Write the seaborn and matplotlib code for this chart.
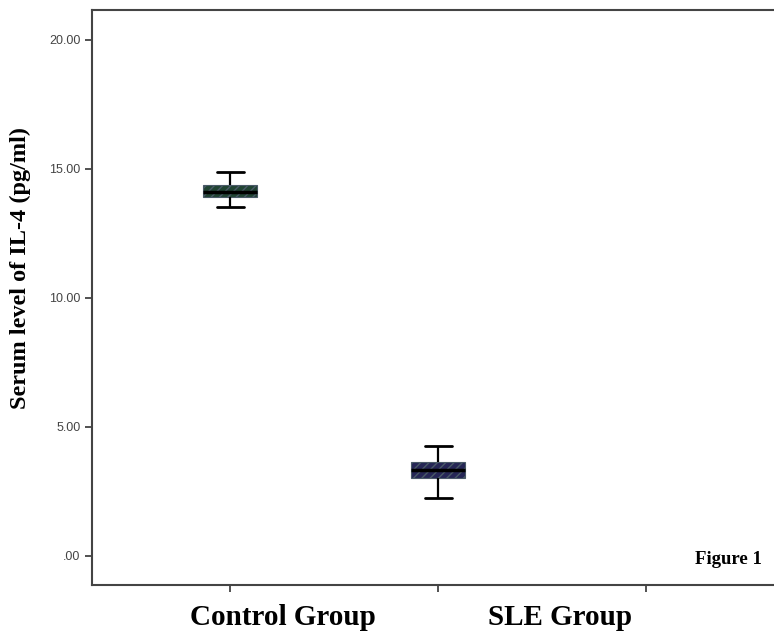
import numpy as np
import pandas as pd
import matplotlib
matplotlib.use("Agg")
import matplotlib.pyplot as plt
import seaborn as sns

# five-number summaries: min, q1, median, q3, max
groups = ["Control Group", "SLE Group"]
control_vals = [13.53, 13.91, 14.12, 14.38, 14.88]
sle_vals = [2.25, 3.02, 3.33, 3.64, 4.26]
box_colors = ["#1b4a33", "#1e1e5e"]
y_ticks = [0, 5, 10, 15, 20]
y_tick_labels = [".00", "5.00", "10.00", "15.00", "20.00"]

df = pd.DataFrame({
    "group": [groups[0]] * len(control_vals) + [groups[1]] * len(sle_vals),
    "value": control_vals + sle_vals,
})

sns.set_style("white")
fig = plt.figure(figsize=(7.74, 6.32), dpi=100)
ax = fig.add_axes([0.119, 0.0744, 0.881, 0.9098])

sns.boxplot(data=df, x="group", y="value", order=groups, hue="group",
            palette=box_colors, legend=False, width=0.26, whis=(0, 100),
            linewidth=1.6, linecolor="black",
            medianprops={"color": "black", "linewidth": 2.5},
            capprops={"color": "black", "linewidth": 2},
            whiskerprops={"color": "black", "linewidth": 1.6},
            ax=ax)

# hatched fill like the SPSS boxes
for patch in ax.patches:
    patch.set_hatch("////")
    patch.set_edgecolor("#4a5a68")
    patch.set_linewidth(0.8)

ax.set_xlim(-0.663, 2.615)
ax.set_ylim(-1.124, 21.16)
ax.set_xticks([0, 1, 2])
ax.set_xticklabels(["", "", ""])
ax.set_yticks(y_ticks)
ax.set_yticklabels(y_tick_labels, fontsize=9, color="#444444",
                   family="Liberation Sans")
ax.tick_params(axis="both", which="both", direction="out", length=5,
               width=1.2, color="#333333", left=True, bottom=True)
ax.set_xlabel("")
ax.set_ylabel("Serum level of IL-4 (pg/ml)", fontsize=17.5, fontweight="bold",
              family="Liberation Serif", color="black")
ax.yaxis.set_label_coords(-0.0894, 0.551)

for side in ["left", "top", "bottom"]:
    ax.spines[side].set_color("#444444")
    ax.spines[side].set_linewidth(1.5)
ax.spines["right"].set_visible(False)

# group names sit offset from the ticks in the original
ax.text(0.255, -0.0557, groups[0], transform=ax.get_xaxis_transform(),
        ha="center", va="center", fontsize=21, fontweight="bold",
        family="Liberation Serif", color="black")
ax.text(1.587, -0.0557, groups[1], transform=ax.get_xaxis_transform(),
        ha="center", va="center", fontsize=21, fontweight="bold",
        family="Liberation Serif", color="black")
ax.text(0.982, 0.045, "Figure 1", transform=ax.transAxes, ha="right",
        va="center", fontsize=13.5, fontweight="bold",
        family="Liberation Serif", color="black")

fig.savefig("out.png", dpi=100)
